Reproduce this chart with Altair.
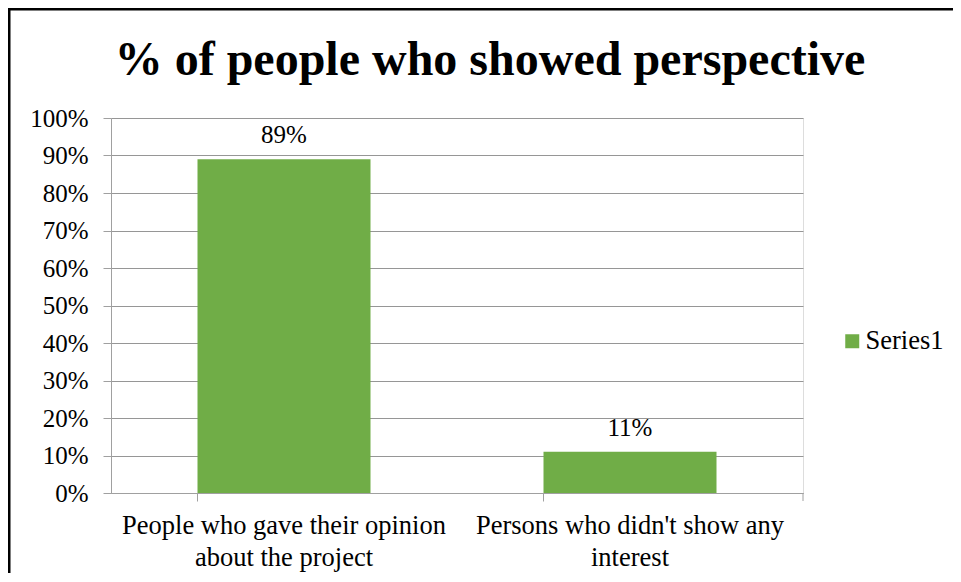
import json
import altair as alt
import pandas as pd

title_text = "% of people who showed perspective"
categories = ["People who gave their opinion about the project",
              "Persons who didn't show any interest"]
label_lines = [["People who gave their opinion", "about the project"],
               ["Persons who didn't show any", "interest"]]
values = [0.89, 0.11]
series_name = "Series1"
y_ticks = [0, 0.1, 0.2, 0.3, 0.4, 0.5, 0.6, 0.7, 0.8, 0.9, 1.0]

df = pd.DataFrame({"category": categories, "value": values, "series": [series_name] * len(categories)})
title_df = pd.DataFrame({"t": [title_text]})

FONT = "Liberation Serif"
GREEN = "#70AD47"
W, H = 692, 375

label_expr = "datum.value == {} ? {} : {}".format(
    json.dumps(categories[0]), json.dumps(label_lines[0]), json.dumps(label_lines[1]))

x_axis = alt.Axis(labelAngle=0, bandPosition=0, labelExpr=label_expr,
                  labelFont=FONT, labelFontSize=26.5, labelColor="black", labelLimit=0,
                  labelLineHeight=32, labelPadding=11, tickSize=8,
                  domainColor="#a0a0a0", tickColor="#a0a0a0", labelBaseline="top")
y_axis = alt.Axis(values=y_ticks, format=".0%", labelFont=FONT, labelFontSize=25,
                  labelColor="black", labelPadding=15, tickSize=8, labelOverlap=False,
                  domainColor="#a0a0a0", tickColor="#a0a0a0",
                  grid=True, gridColor="#969696", gridWidth=1)

x_enc = alt.X("category:N", sort=categories, title=None,
              scale=alt.Scale(paddingInner=0.5, paddingOuter=0.25), axis=x_axis)
y_enc = alt.Y("value:Q", title=None, scale=alt.Scale(domain=[0, 1], nice=False), axis=y_axis)

bars = alt.Chart(df).mark_bar(size=173).encode(
    x=x_enc, y=y_enc,
    color=alt.Color("series:N", scale=alt.Scale(range=[GREEN]),
                    legend=alt.Legend(title=None, orient="none", legendX=728, legendY=210,
                                      symbolType="square", symbolSize=196,
                                      symbolStrokeWidth=0, labelFont=FONT,
                                      labelFontSize=26.5, labelColor="black", labelOffset=0,
                                      symbolOffset=0, padding=0)))

texts = alt.Chart(df).mark_text(font=FONT, fontSize=25, color="black",
                                baseline="alphabetic", dy=-16).encode(
    x=x_enc, y=y_enc,
    text=alt.Text("value:Q", format=".0%"))

title_mark = alt.Chart(title_df).mark_text(font=FONT, fontSize=48, fontWeight="bold",
                                           color="black", baseline="alphabetic",
                                           align="center").encode(
    x=alt.value(379), y=alt.value(-43), text="t:N")

end_tick = alt.Chart(title_df).mark_rule(color="#a0a0a0").encode(
    x=alt.value(W), y=alt.value(H), y2=alt.value(H + 8))

border_left = alt.Chart(title_df).mark_rule(color="black", strokeWidth=3, clip=False).encode(
    x=alt.value(-102), y=alt.value(-110), y2=alt.value(H + 200))
border_top = alt.Chart(title_df).mark_rule(color="black", strokeWidth=3, clip=False).encode(
    x=alt.value(-104), x2=alt.value(W + 200), y=alt.value(-109))

chart = alt.layer(bars, texts, title_mark, end_tick, border_left, border_top).properties(
    width=W, height=H,
    autosize=alt.AutoSizeParams(type="none"),
    padding={"left": 103, "top": 110, "right": 150, "bottom": 80},
).configure_view(stroke=None).configure(background="white", font=FONT
).configure_axis(labelFont=FONT).configure_legend(labelFont=FONT).configure_text(font=FONT)

chart.save("out.html", embed_options={"renderer": "svg", "actions": False})
